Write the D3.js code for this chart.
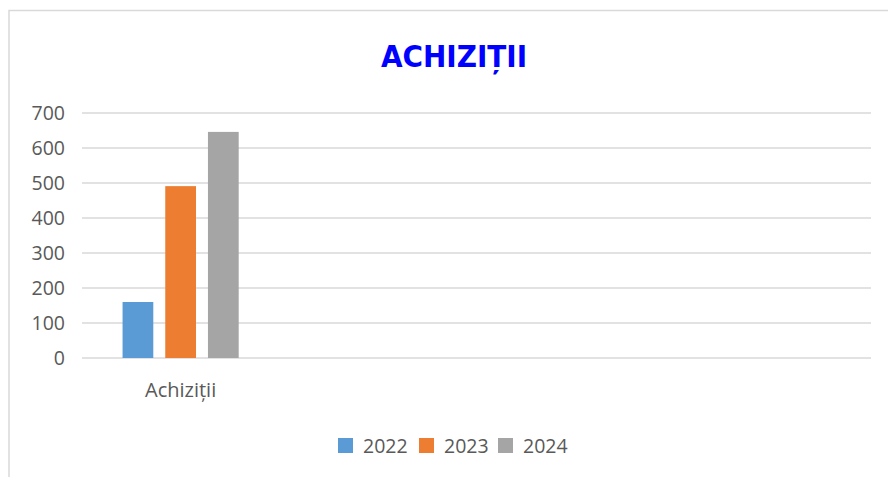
<!DOCTYPE html>
<html>
<head>
<meta charset="utf-8">
<script src="https://cdn.jsdelivr.net/npm/d3@7"></script>
<style>
  body { margin: 0; background: #fff; }
  svg { display: block; }
</style>
</head>
<body>
<div id="chart"></div>
<script>
// data
const categories = ['Achiziții'];
const series = ['2022', '2023', '2024'];
const values = [160, 491, 646];
const yTicks = [0, 100, 200, 300, 400, 500, 600, 700];
const colors = ['#5b9bd5', '#ed7d31', '#a5a5a5'];

const size = { width: 888, height: 477 };
const margin = { top: 113, right: 17, bottom: 119, left: 82 };
// the original chart leaves room for 4 category slots, only the first is filled
const slots = 4;

const svg = d3.select('#chart')
  .append('svg')
  .attr('width', size.width)
  .attr('height', size.height);

// chart area frame (top and left edges are what show)
svg.append('path')
  .attr('d', `M9,${size.height} V10.5 H${size.width}`)
  .attr('fill', 'none')
  .attr('stroke', '#d9d9d9')
  .attr('stroke-width', 1.5);

svg.append('text')
  .attr('x', 454)
  .attr('y', 67)
  .attr('text-anchor', 'middle')
  .attr('font-family', 'DejaVu Sans Condensed, DejaVu Sans')
  .attr('font-weight', 'bold')
  .attr('font-size', '31px')
  .attr('fill', '#0000ff')
  .text('ACHIZIȚII');

const y = d3.scaleLinear()
  .domain([0, 700])
  .range([size.height - margin.bottom, margin.top]);

const x0 = d3.scaleBand()
  .domain(d3.range(slots))
  .range([margin.left, size.width - margin.right]);

const x1 = d3.scaleBand()
  .domain(series)
  .range([0, x0.bandwidth()])
  .paddingInner(0.28)
  .paddingOuter(0.95);

// gridlines
svg.append('g')
  .selectAll('line')
  .data(yTicks)
  .join('line')
  .attr('x1', margin.left)
  .attr('x2', size.width - margin.right)
  .attr('y1', (d) => y(d))
  .attr('y2', (d) => y(d))
  .attr('stroke', '#d9d9d9')
  .attr('stroke-width', 1.5);

// y axis labels
svg.append('g')
  .attr('transform', `translate(${margin.left}, 0)`)
  .call(d3.axisLeft(y).tickValues(yTicks).tickSize(0).tickPadding(17))
  .call((g) => g.select('.domain').remove())
  .selectAll('text')
  .attr('font-family', 'Open Sans')
  .attr('font-size', '19.5px')
  .attr('fill', '#595959');

// bars
svg.append('g')
  .selectAll('rect')
  .data(values)
  .join('rect')
  .attr('x', (d, i) => x0(0) + x1(series[i]))
  .attr('y', (d) => y(d))
  .attr('width', x1.bandwidth())
  .attr('height', (d) => y(0) - y(d))
  .attr('fill', (d, i) => colors[i]);

// category label
svg.append('g')
  .selectAll('text')
  .data(categories)
  .join('text')
  .attr('x', (d, i) => x0(i) + x0.bandwidth() / 2)
  .attr('y', 397)
  .attr('text-anchor', 'middle')
  .attr('font-family', 'Open Sans')
  .attr('font-size', '20px')
  .attr('fill', '#595959')
  .text((d) => d);

// legend
const legendX = [338, 419, 498];
const legend = svg.append('g')
  .selectAll('g')
  .data(series)
  .join('g')
  .attr('transform', (d, i) => `translate(${legendX[i]}, 438)`);

legend.append('rect')
  .attr('width', 15)
  .attr('height', 15)
  .attr('fill', (d, i) => colors[i]);

legend.append('text')
  .attr('x', 25)
  .attr('y', 15)
  .attr('font-family', 'Open Sans')
  .attr('font-size', '19.5px')
  .attr('fill', '#595959')
  .text((d) => d);
</script>
</body>
</html>
